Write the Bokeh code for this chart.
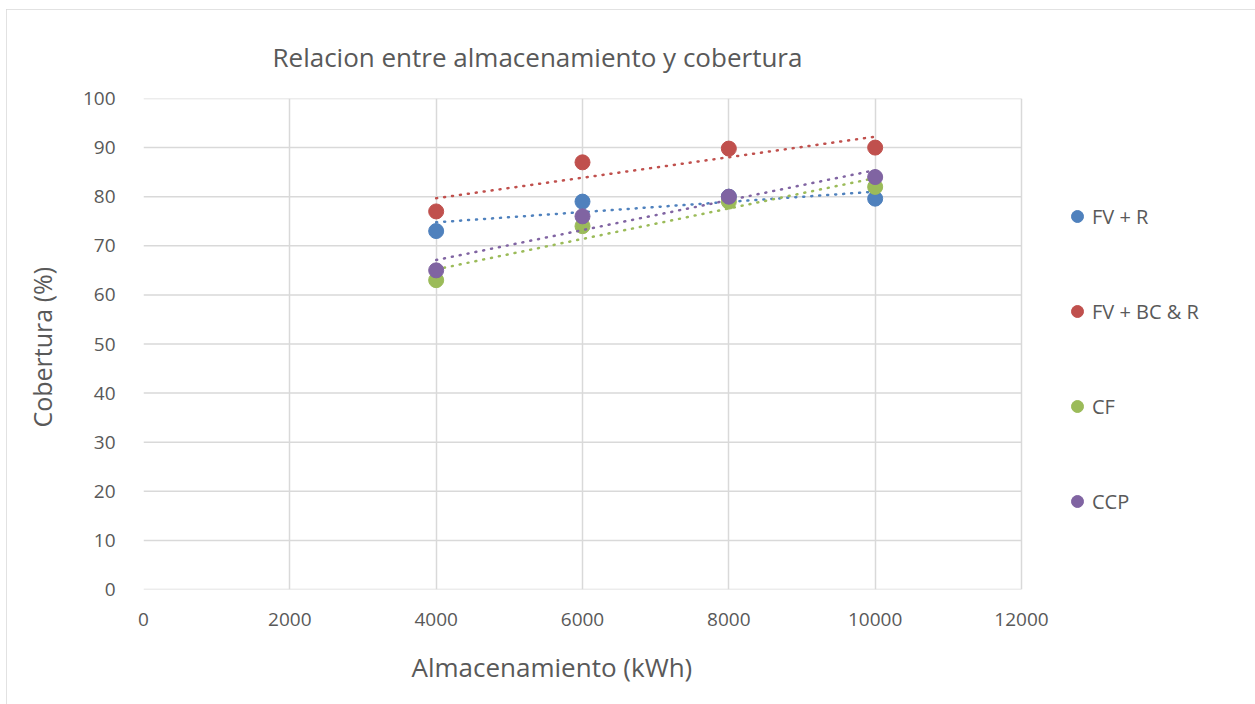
import numpy as np
from bokeh.plotting import figure
from bokeh.models import Range1d, Legend, LegendItem, FixedTicker, Title
from bokeh.embed import file_html
from bokeh.resources import INLINE

# ---- data ----
storage_kwh = [4000, 6000, 8000, 10000]
series_names = ["FV + R", "FV + BC & R", "CF", "CCP"]
fv_r = [73, 79, 80, 79.6]
fv_bc_r = [77, 87, 89.8, 90]
cf = [63, 74, 79, 82]
ccp = [65, 76, 80, 84]
series_values = [fv_r, fv_bc_r, cf, ccp]
colors = ["#4F81BD", "#C0504D", "#9BBB59", "#8064A2"]
x_ticks = [0, 2000, 4000, 6000, 8000, 10000, 12000]
y_ticks = [0, 10, 20, 30, 40, 50, 60, 70, 80, 90, 100]

FONT = "Open Sans"
TXT = "#595959"
GRID = "#d9d9d9"

# layout (pixels)
FIG_W, FIG_H = 1249, 700
LEFT, RIGHT, TOP, BOTTOM = 137, 15, 89, 120
AXIS_W = 878  # pixel width of the 0..12000 axis span
frame_w = FIG_W - LEFT - RIGHT
x_end = x_ticks[-1] * frame_w / AXIS_W

p = figure(width=FIG_W, height=FIG_H, output_backend="svg", toolbar_location=None,
           x_range=Range1d(x_ticks[0], x_end), y_range=Range1d(y_ticks[0], y_ticks[-1]),
           min_border_left=LEFT, min_border_right=RIGHT, min_border_top=TOP,
           min_border_bottom=BOTTOM)
p.styles = {"margin-left": "6px", "margin-top": "9px",
            "outline": "2px solid #d9d9d9", "outline-offset": "-2px"}
p.outline_line_color = None
p.background_fill_color = "white"
p.border_fill_color = "white"

p.title.text = "Relacion entre almacenamiento y cobertura"
p.title.align = "left"
p.title.offset = 129
p.title.text_font = FONT
p.title.text_font_size = "26px"
p.title.text_font_style = "normal"
p.title.text_color = TXT
p.title.standoff = 48

for ax in (p.xaxis[0], p.yaxis[0]):
    ax.axis_line_color = None
    ax.major_tick_line_color = None
    ax.minor_tick_line_color = None
    ax.major_label_text_color = TXT
    ax.major_label_text_font = FONT
    ax.major_label_text_font_size = "19px"
    ax.axis_label_text_font = FONT
    ax.axis_label_text_font_size = "25px"
    ax.axis_label_text_font_style = "normal"
    ax.axis_label_text_color = TXT
p.xaxis[0].ticker = FixedTicker(ticks=x_ticks)
p.yaxis[0].ticker = FixedTicker(ticks=y_ticks)
p.xaxis[0].major_label_standoff = 17
p.yaxis[0].major_label_standoff = 22
p.yaxis[0].axis_label = "Cobertura  (%)"
p.yaxis[0].axis_label_standoff = 21

p.add_layout(Title(text="Almacenamiento (kWh)", align="left", offset=268,
                   text_font=FONT, text_font_size="26px", text_font_style="normal",
                   text_color=TXT, standoff=36), "below")

p.xgrid[0].ticker = FixedTicker(ticks=x_ticks)
p.xgrid.grid_line_color = GRID
p.xgrid.grid_line_width = 1.5
p.ygrid.visible = False
n = len(y_ticks)
p.segment(x0=[x_ticks[0]] * n, y0=y_ticks, x1=[x_ticks[-1]] * n, y1=y_ticks,
          line_color=GRID, line_width=1.5, level="underlay")

items = []
xs = np.array(storage_kwh, dtype=float)
for name, vals, c in zip(series_names, series_values, colors):
    ys = np.array(vals, dtype=float)
    m, b = np.polyfit(xs, ys, 1)
    tx = [xs.min(), xs.max()]
    p.line(tx, [m * tx[0] + b, m * tx[1] + b], line_color=c, line_width=2.5,
           line_dash="1 7", line_cap="round")
    r = p.scatter(storage_kwh, vals, size=15, color=c, marker="circle")
    items.append(LegendItem(label=name, renderers=[r]))

legend = Legend(items=items, location=(919, 73), orientation="vertical",
                spacing=65, padding=0, margin=0, label_standoff=-3,
                glyph_width=30, glyph_height=30, label_height=30,
                label_text_font=FONT, label_text_font_size="20px", label_text_color=TXT,
                border_line_color=None, background_fill_alpha=0)
p.add_layout(legend, "center")

open("out.html", "w").write(file_html(p, INLINE))
